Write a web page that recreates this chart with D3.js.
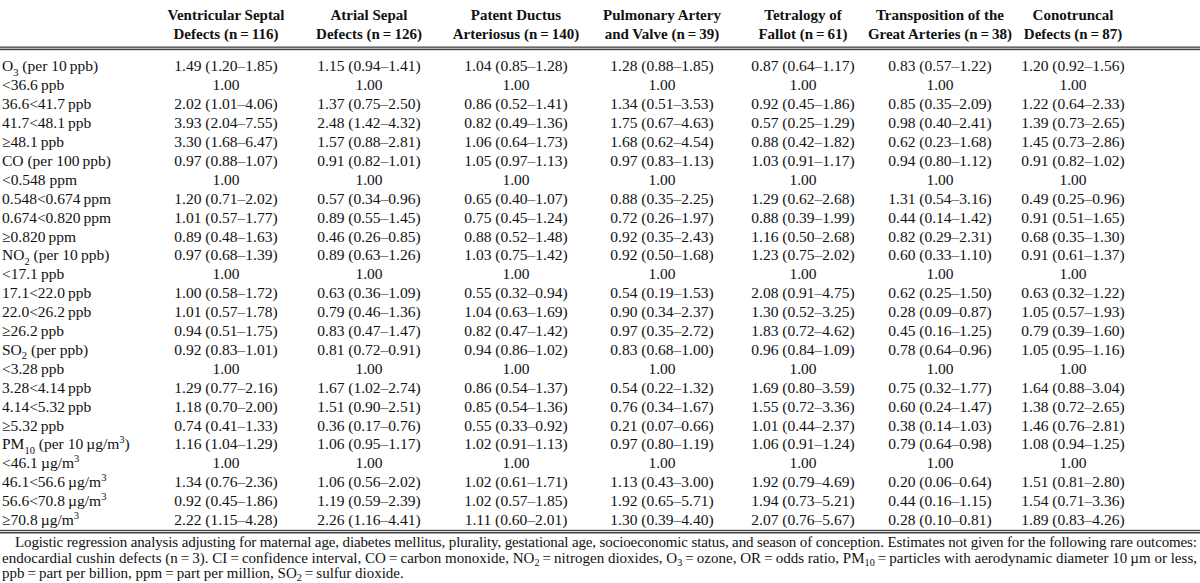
<!DOCTYPE html>
<html><head><meta charset="utf-8">
<script src="https://cdn.jsdelivr.net/npm/d3@7"></script>
<style>body{margin:0;background:#fff} svg{display:block} text{font-family:"Liberation Serif","Times New Roman",serif;fill:#111}</style>
</head><body><svg id="c" width="1200" height="583"></svg>
<script>
const headers = [
  ["Ventricular Septal","Defects (n\u2009=\u2009116)"],
  ["Atrial Sepal","Defects (n\u2009=\u2009126)"],
  ["Patent Ductus","Arteriosus (n\u2009=\u2009140)"],
  ["Pulmonary Artery","and Valve (n\u2009=\u200939)"],
  ["Tetralogy of","Fallot (n\u2009=\u200961)"],
  ["Transposition of the","Great Arteries (n\u2009=\u200938)"],
  ["Conotruncal","Defects (n\u2009=\u200987)"]
];
const rowLabels = [
  "O_{3} (per 10\u2009ppb)","<36.6\u2009ppb","36.6<41.7\u2009ppb","41.7<48.1\u2009ppb","\u226548.1\u2009ppb",
  "CO (per 100\u2009ppb)","<0.548 ppm","0.548<0.674\u2009ppm","0.674<0.820\u2009ppm","\u22650.820\u2009ppm",
  "NO_{2} (per 10\u2009ppb)","<17.1\u2009ppb","17.1<22.0\u2009ppb","22.0<26.2\u2009ppb","\u226526.2\u2009ppb",
  "SO_{2} (per ppb)","<3.28\u2009ppb","3.28<4.14\u2009ppb","4.14<5.32\u2009ppb","\u22655.32\u2009ppb",
  "PM_{10} (per 10\u2009\u00b5g/m^{3})","<46.1\u2009\u00b5g/m^{3}","46.1<56.6\u2009\u00b5g/m^{3}","56.6<70.8\u2009\u00b5g/m^{3}","\u226570.8\u2009\u00b5g/m^{3}"
];
const vsd = ["1.49 (1.20–1.85)","1.00","2.02 (1.01–4.06)","3.93 (2.04–7.55)","3.30 (1.68–6.47)","0.97 (0.88–1.07)","1.00","1.20 (0.71–2.02)","1.01 (0.57–1.77)","0.89 (0.48–1.63)","0.97 (0.68–1.39)","1.00","1.00 (0.58–1.72)","1.01 (0.57–1.78)","0.94 (0.51–1.75)","0.92 (0.83–1.01)","1.00","1.29 (0.77–2.16)","1.18 (0.70–2.00)","0.74 (0.41–1.33)","1.16 (1.04–1.29)","1.00","1.34 (0.76–2.36)","0.92 (0.45–1.86)","2.22 (1.15–4.28)"];
const asd = ["1.15 (0.94–1.41)","1.00","1.37 (0.75–2.50)","2.48 (1.42–4.32)","1.57 (0.88–2.81)","0.91 (0.82–1.01)","1.00","0.57 (0.34–0.96)","0.89 (0.55–1.45)","0.46 (0.26–0.85)","0.89 (0.63–1.26)","1.00","0.63 (0.36–1.09)","0.79 (0.46–1.36)","0.83 (0.47–1.47)","0.81 (0.72–0.91)","1.00","1.67 (1.02–2.74)","1.51 (0.90–2.51)","0.36 (0.17–0.76)","1.06 (0.95–1.17)","1.00","1.06 (0.56–2.02)","1.19 (0.59–2.39)","2.26 (1.16–4.41)"];
const pda = ["1.04 (0.85–1.28)","1.00","0.86 (0.52–1.41)","0.82 (0.49–1.36)","1.06 (0.64–1.73)","1.05 (0.97–1.13)","1.00","0.65 (0.40–1.07)","0.75 (0.45–1.24)","0.88 (0.52–1.48)","1.03 (0.75–1.42)","1.00","0.55 (0.32–0.94)","1.04 (0.63–1.69)","0.82 (0.47–1.42)","0.94 (0.86–1.02)","1.00","0.86 (0.54–1.37)","0.85 (0.54–1.36)","0.55 (0.33–0.92)","1.02 (0.91–1.13)","1.00","1.02 (0.61–1.71)","1.02 (0.57–1.85)","1.11 (0.60–2.01)"];
const pav = ["1.28 (0.88–1.85)","1.00","1.34 (0.51–3.53)","1.75 (0.67–4.63)","1.68 (0.62–4.54)","0.97 (0.83–1.13)","1.00","0.88 (0.35–2.25)","0.72 (0.26–1.97)","0.92 (0.35–2.43)","0.92 (0.50–1.68)","1.00","0.54 (0.19–1.53)","0.90 (0.34–2.37)","0.97 (0.35–2.72)","0.83 (0.68–1.00)","1.00","0.54 (0.22–1.32)","0.76 (0.34–1.67)","0.21 (0.07–0.66)","0.97 (0.80–1.19)","1.00","1.13 (0.43–3.00)","1.92 (0.65–5.71)","1.30 (0.39–4.40)"];
const tof = ["0.87 (0.64–1.17)","1.00","0.92 (0.45–1.86)","0.57 (0.25–1.29)","0.88 (0.42–1.82)","1.03 (0.91–1.17)","1.00","1.29 (0.62–2.68)","0.88 (0.39–1.99)","1.16 (0.50–2.68)","1.23 (0.75–2.02)","1.00","2.08 (0.91–4.75)","1.30 (0.52–3.25)","1.83 (0.72–4.62)","0.96 (0.84–1.09)","1.00","1.69 (0.80–3.59)","1.55 (0.72–3.36)","1.01 (0.44–2.37)","1.06 (0.91–1.24)","1.00","1.92 (0.79–4.69)","1.94 (0.73–5.21)","2.07 (0.76–5.67)"];
const tga = ["0.83 (0.57–1.22)","1.00","0.85 (0.35–2.09)","0.98 (0.40–2.41)","0.62 (0.23–1.68)","0.94 (0.80–1.12)","1.00","1.31 (0.54–3.16)","0.44 (0.14–1.42)","0.82 (0.29–2.31)","0.60 (0.33–1.10)","1.00","0.62 (0.25–1.50)","0.28 (0.09–0.87)","0.45 (0.16–1.25)","0.78 (0.64–0.96)","1.00","0.75 (0.32–1.77)","0.60 (0.24–1.47)","0.38 (0.14–1.03)","0.79 (0.64–0.98)","1.00","0.20 (0.06–0.64)","0.44 (0.16–1.15)","0.28 (0.10–0.81)"];
const ctd = ["1.20 (0.92–1.56)","1.00","1.22 (0.64–2.33)","1.39 (0.73–2.65)","1.45 (0.73–2.86)","0.91 (0.82–1.02)","1.00","0.49 (0.25–0.96)","0.91 (0.51–1.65)","0.68 (0.35–1.30)","0.91 (0.61–1.37)","1.00","0.63 (0.32–1.22)","1.05 (0.57–1.93)","0.79 (0.39–1.60)","1.05 (0.95–1.16)","1.00","1.64 (0.88–3.04)","1.38 (0.72–2.65)","1.46 (0.76–2.81)","1.08 (0.94–1.25)","1.00","1.51 (0.81–2.80)","1.54 (0.71–3.36)","1.89 (0.83–4.26)"];
const footnotes = [
  "Logistic regression analysis adjusting for maternal age, diabetes mellitus, plurality, gestational age, socioeconomic status, and season of conception. Estimates not given for the following rare outcomes:",
  "endocardial cushin defects (n\u2009=\u20093). CI\u2009=\u2009confidence interval, CO\u2009=\u2009carbon monoxide, NO_{2}\u2009=\u2009nitrogen dioxides, O_{3}\u2009=\u2009ozone, OR\u2009=\u2009odds ratio, PM_{10}\u2009=\u2009particles with aerodynamic diameter 10\u2009\u00b5m or less,",
  "ppb\u2009=\u2009part per billion, ppm\u2009=\u2009part per million, SO_{2}\u2009=\u2009sulfur dioxide."
];

const columns = [vsd, asd, pda, pav, tof, tga, ctd];
const W = 1200, H = 583, FS = 15.5, HFS = 15;
const svg = d3.select("#c");

const x = d3.scaleOrdinal().domain(d3.range(columns.length)).range([226, 369, 516, 662, 803, 940, 1073]);
const y = d3.scaleBand().domain(d3.range(rowLabels.length)).range([56.5, 529]);

function rich(sel, str, fs, subShift) {
  const parts = str.split(/(_\{[^}]*\}|\^\{[^}]*\})/);
  let off = 0;
  const ss = subShift == null ? 0.28 : subShift;
  parts.forEach(p => {
    if (!p) return;
    let t = p, dy = 0, size = null;
    if (p.startsWith("_{")) { t = p.slice(2, -1); dy = fs * ss; size = fs * 0.68; }
    else if (p.startsWith("^{")) { t = p.slice(2, -1); dy = -fs * 0.42; size = fs * 0.68; }
    const ts = sel.append("tspan").text(t).attr("dy", dy - off);
    if (size) ts.attr("font-size", size);
    off = dy;
  });
}

// header
const hg = svg.append("g");
headers.forEach((h, i) => {
  h.forEach((line, j) => {
    hg.append("text").attr("x", x(i)).attr("y", 19.5 + j * 19.5)
      .attr("text-anchor", "middle").attr("font-weight", "bold").attr("font-size", HFS).text(line);
  });
});
// rules
svg.append("rect").attr("x", 0).attr("y", 46.5).attr("width", W).attr("height", 1.3).attr("fill", "#444");
svg.append("rect").attr("x", 0).attr("y", 48.6).attr("width", W).attr("height", 1.6).attr("fill", "#444");
svg.append("rect").attr("x", 0).attr("y", 529.8).attr("width", W).attr("height", 1.3).attr("fill", "#444");
svg.append("rect").attr("x", 0).attr("y", 531.9).attr("width", W).attr("height", 1.6).attr("fill", "#444");

// row labels
const rg = svg.append("g");
rowLabels.forEach((lab, r) => {
  const t = rg.append("text").attr("x", 2).attr("y", y(r) + y.bandwidth() / 2 + 5.5).attr("font-size", FS);
  rich(t, lab, FS);
});
// cells
const cg = svg.append("g");
columns.forEach((col, c) => {
  cg.selectAll(null).data(col).join("text")
    .attr("x", x(c)).attr("y", (d, r) => y(r) + y.bandwidth() / 2 + 5.5)
    .attr("text-anchor", "middle").attr("font-size", FS).text(d => d);
});
// footnotes
const FF = 15;
const fx = [15, 2, 2], fy = [547, 562.5, 577.5], fw = [1182, 1195, null];
footnotes.forEach((f, i) => {
  const t = svg.append("text").attr("x", fx[i]).attr("y", fy[i]).attr("font-size", FF);
  if (fw[i]) t.attr("textLength", fw[i]).attr("lengthAdjust", "spacing");
  rich(t, f, FF, 0.2);
});
</script></body></html>
